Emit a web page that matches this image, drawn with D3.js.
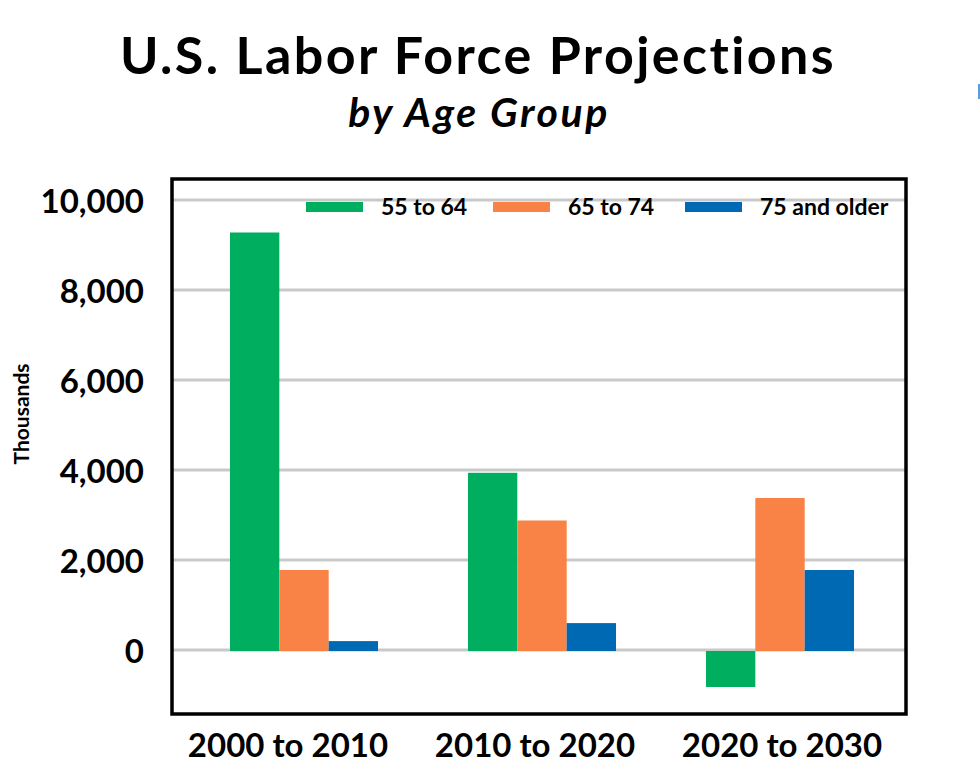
<!DOCTYPE html>
<html lang="en">
<head>
<meta charset="utf-8">
<title>U.S. Labor Force Projections</title>
<script src="https://cdn.jsdelivr.net/npm/d3@7"></script>
<style>
  body { margin:0; background:#fff; font-family:Lato, "Open Sans", sans-serif; }
  svg text { font-family:Lato, "Open Sans", sans-serif; font-weight:700; fill:#000; }
</style>
</head>
<body>
<div id="chart"></div>
<script>
  // data (thousands)
  var periods = ["2000 to 2010", "2010 to 2020", "2020 to 2030"]
  var groups = ["55 to 64", "65 to 74", "75 and older"]
  var age55 = [9300, 3960, -800]
  var age65 = [1800, 2900, 3400]
  var age75 = [220, 620, 1800]
  var yTicks = [0, 2000, 4000, 6000, 8000, 10000]
  var colors = ["#00ae5f", "#f98346", "#0069b4"]

  var w = 980, h = 778
  var svg = d3.select("#chart").append("svg").attr("width", w).attr("height", h)

  var series = [age55, age65, age75]
  var rows = periods.map(function(p, i){
    return groups.map(function(g, j){ return {period:p, group:g, value:series[j][i], k:j} })
  })

  var x0 = d3.scaleBand().domain(periods).range([185, 899]).paddingInner(0.378).paddingOuter(0.189)
  var x1 = d3.scaleBand().domain(groups).range([0, x0.bandwidth()])
  // the category labels sit a little off the bar groups in the original
  var xLab = d3.scalePoint().domain(periods).range([288, 782])
  var y = d3.scaleLinear().domain([0, 10000]).range([651, 201])

  // title
  svg.append("text").attr("x", 478).attr("y", 74).attr("text-anchor", "middle")
    .style("font-size", "52px").style("letter-spacing", "2.4px").text("U.S. Labor Force Projections")
  svg.append("text").attr("x", 479).attr("y", 127).attr("text-anchor", "middle")
    .style("font-size", "41px").style("letter-spacing", "2.5px").style("font-style", "italic")
    .text("by Age Group")

  // gridlines
  svg.append("g").selectAll("line").data(yTicks).enter().append("line")
    .attr("x1", 172).attr("x2", 906)
    .attr("y1", function(d){ return y(d) - 1 }).attr("y2", function(d){ return y(d) - 1 })
    .attr("stroke", "#c9c9c9").attr("stroke-width", 3)

  // y axis labels
  var yAxis = d3.axisLeft(y).tickValues(yTicks).tickSize(0).tickPadding(0)
    .tickFormat(d3.format(","))
  var ya = svg.append("g").attr("transform", "translate(144,0)").call(yAxis)
  ya.select(".domain").remove()
  ya.selectAll("text").style("font-size", "33px").attr("dy", "0.35em")

  svg.append("text").attr("transform", "translate(29,414) rotate(-90)")
    .attr("text-anchor", "middle").style("font-size", "21px").text("Thousands")

  // bars
  svg.append("g").selectAll("g").data(rows).enter().append("g")
    .attr("transform", function(d){ return "translate(" + x0(d[0].period) + ",0)" })
    .selectAll("rect").data(function(d){ return d }).enter().append("rect")
    .attr("x", function(d){ return x1(d.group) })
    .attr("width", x1.bandwidth())
    .attr("y", function(d){ return y(Math.max(0, d.value)) })
    .attr("height", function(d){ return Math.abs(y(d.value) - y(0)) })
    .attr("fill", function(d){ return colors[d.k] })

  // frame
  svg.append("rect").attr("x", 172).attr("y", 179).attr("width", 734).attr("height", 535)
    .attr("fill", "none").attr("stroke", "#000").attr("stroke-width", 3.5)

  // x labels
  svg.append("g").selectAll("text").data(periods).enter().append("text")
    .attr("x", function(d){ return xLab(d) })
    .attr("y", 757).attr("text-anchor", "middle").style("font-size", "33px")
    .text(function(d){ return d })

  // legend
  var legX = [306, 493, 685]
  var leg = svg.append("g").selectAll("g").data(groups).enter().append("g")
    .attr("transform", function(d, i){ return "translate(" + legX[i] + ",202)" })
  leg.append("rect").attr("width", 57).attr("height", 10)
    .attr("fill", function(d, i){ return colors[i] })
  leg.append("text").attr("x", 75).attr("y", 5).attr("dy", "0.35em")
    .style("font-size", "23px").text(function(d){ return d })

  // little blue mark at the right edge
  svg.append("rect").attr("x", 978).attr("y", 84).attr("width", 2).attr("height", 15).attr("fill", "#5b9be0")
</script>
</body>
</html>
